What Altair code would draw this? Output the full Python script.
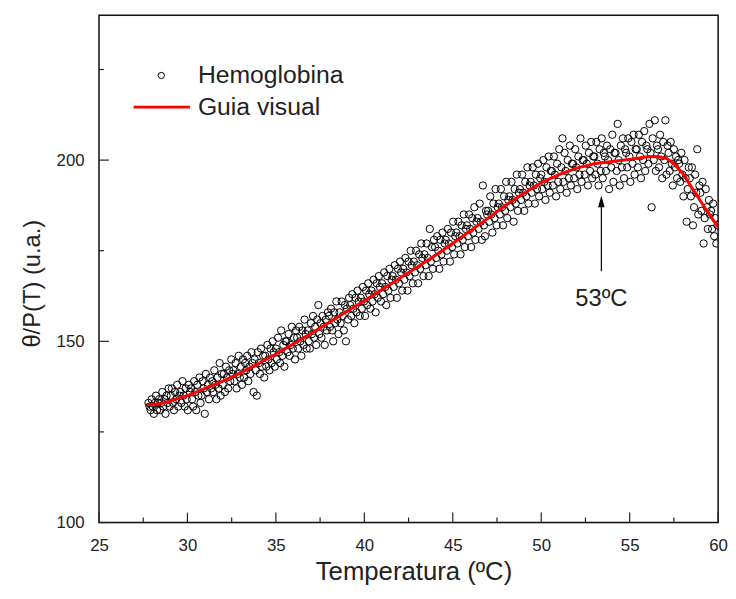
import altair as alt
import pandas as pd

# ---------------- data ----------------
T_START = 27.8
T_STEP = 0.06
# measured θ/P(T) values, 10 readings per row (0.6 ºC per row)
Y_ROWS = [
    [133, 132, 131, 134, 132, 130, 133, 135, 131, 133],
    [134, 131, 133, 136, 132, 134, 130, 135, 133, 137],
    [132, 135, 137, 133, 131, 136, 134, 138, 132, 135],
    [136, 133, 139, 135, 132, 137, 134, 131, 138, 136],
    [137, 134, 132, 139, 136, 131, 138, 135, 140, 133],
    [135, 139, 137, 130, 141, 136, 138, 134, 140, 137],
    [139, 136, 142, 138, 134, 140, 137, 144, 135, 141],
    [138, 141, 136, 143, 140, 137, 142, 139, 145, 141],
    [142, 139, 144, 137, 141, 146, 140, 143, 138, 145],
    [140, 144, 142, 146, 139, 143, 141, 147, 144, 136],
    [145, 142, 135, 147, 144, 141, 148, 143, 146, 140],
    [146, 143, 149, 145, 142, 148, 144, 150, 147, 143],
    [148, 145, 151, 147, 144, 153, 146, 149, 143, 150],
    [150, 147, 152, 146, 149, 154, 148, 151, 145, 153],
    [151, 148, 154, 150, 146, 153, 149, 156, 152, 148],
    [153, 150, 148, 155, 152, 157, 151, 154, 149, 156],
    [160, 152, 155, 151, 157, 154, 149, 156, 153, 158],
    [157, 154, 159, 153, 150, 158, 155, 161, 156, 152],
    [158, 155, 161, 157, 153, 160, 150, 159, 156, 162],
    [160, 157, 163, 159, 155, 162, 158, 164, 161, 157],
    [162, 159, 165, 161, 157, 164, 160, 166, 163, 159],
    [164, 161, 167, 163, 158, 166, 162, 168, 165, 161],
    [166, 163, 169, 165, 160, 168, 164, 170, 162, 167],
    [168, 165, 171, 167, 162, 170, 166, 172, 169, 164],
    [170, 167, 173, 169, 164, 172, 168, 175, 171, 166],
    [172, 169, 175, 171, 166, 174, 170, 177, 173, 168],
    [174, 171, 177, 173, 168, 181, 172, 176, 170, 178],
    [176, 173, 179, 175, 170, 178, 174, 180, 172, 177],
    [178, 175, 181, 177, 172, 180, 176, 183, 174, 179],
    [180, 177, 183, 179, 174, 182, 178, 185, 176, 181],
    [182, 179, 185, 181, 176, 184, 180, 187, 178, 183],
    [184, 181, 188, 183, 178, 193, 182, 179, 186, 185],
    [186, 183, 190, 185, 180, 188, 184, 192, 182, 187],
    [188, 185, 192, 187, 182, 190, 186, 194, 184, 189],
    [190, 187, 194, 189, 183, 192, 188, 196, 186, 191],
    [192, 189, 196, 191, 186, 194, 190, 198, 188, 193],
    [194, 191, 198, 193, 188, 196, 192, 199, 190, 195],
    [196, 192, 200, 194, 189, 198, 193, 201, 191, 197],
    [197, 193, 201, 196, 190, 199, 194, 203, 192, 198],
    [206, 194, 202, 197, 191, 200, 195, 204, 193, 199],
    [199, 195, 203, 198, 192, 201, 196, 206, 194, 200],
    [200, 196, 204, 199, 193, 202, 197, 205, 195, 201],
    [201, 196, 205, 199, 193, 203, 197, 206, 195, 202],
    [201, 197, 204, 200, 192, 203, 198, 207, 194, 202],
    [202, 197, 210, 200, 193, 204, 198, 206, 195, 203],
    [202, 198, 206, 201, 194, 205, 199, 207, 196, 203],
    [203, 198, 207, 201, 195, 205, 200, 208, 197, 204],
    [203, 199, 210, 202, 187, 206, 200, 211, 197, 204],
    [203, 198, 207, 201, 195, 205, 200, 211, 196, 204],
    [202, 197, 205, 199, 193, 203, 198, 201, 195, 200],
    [199, 194, 202, 196, 190, 200, 195, 183, 192, 198],
    [195, 190, 198, 182, 187, 196, 191, 203, 185, 193],
    [191, 186, 194, 177, 184, 192, 187, 181, 189, 185],
    [186, 181, 188, 179, 184, 177, 182],
]

# visual guide (red line)
GUIDE_T = [27.7, 28.5, 29, 30, 31, 32, 33, 34, 35, 36, 37, 38, 39, 40, 41, 42, 43, 44,
           45, 46, 47, 48, 49, 50, 51, 52, 53, 54, 55, 56, 56.6, 57.1, 57.5, 58, 58.5,
           59, 59.5, 60]
GUIDE_V = [132.5, 132.8, 133.5, 135, 137, 139, 141.3, 143.8, 146.5, 149.3, 152.2, 155.2,
           158.2, 161.2, 164.3, 167.4, 170.5, 173.7, 177, 180.5, 184, 187.6, 190.8, 193.8,
           196, 197.8, 199, 199.6, 200.2, 200.9, 201, 200.4, 199, 196.3, 192.5, 188.7,
           185, 181.5]

X_TICKS = [25, 30, 35, 40, 45, 50, 55, 60]
X_MINOR = [27.5, 32.5, 37.5, 42.5, 47.5, 52.5, 57.5]
Y_TICKS = [100, 150, 200]
Y_MINOR = [125, 175, 225]

ARROW_T = 53.4
ARROW_FROM = 169.3
ARROW_TO = 188.6
ANNOT_TEXT = "53ºC"
ANNOT_V = 161.7

LEGEND = ["Hemoglobina", "Guia visual"]

# ---------------- build ----------------
ys = [v for row in Y_ROWS for v in row]
scatter_df = pd.DataFrame({"T": [round(T_START + T_STEP * i, 2) for i in range(len(ys))],
                           "V": ys})
guide_df = pd.DataFrame({"T": GUIDE_T, "V": GUIDE_V})

W, H = 626, 513
FONT = "Liberation Sans"
TXT = "#222222"

xs = alt.Scale(domain=[25, 60], nice=False, zero=False)
ysc = alt.Scale(domain=[100, 240], nice=False, zero=False)

x_axis = alt.Axis(values=X_TICKS, ticks=False, domain=False, grid=False, labelFont=FONT,
                  labelFontSize=17, labelColor=TXT, labelPadding=15, title="Temperatura (ºC)",
                  titleFont=FONT, titleFontSize=26, titleFontWeight="normal", titleColor=TXT,
                  titlePadding=6, titleX=318, labelFlush=False)
y_axis = alt.Axis(values=Y_TICKS, ticks=False, domain=False, grid=False, labelFont=FONT,
                  labelFontSize=17, labelColor=TXT, labelPadding=15, title="θ/P(T) (u.a.)",
                  titleFont=FONT, titleFontSize=24, titleFontWeight="normal", titleColor=TXT,
                  titlePadding=12, titleY=271, labelFlush=False)

points = alt.Chart(scatter_df).mark_point(shape="circle", filled=False, color="black",
                                          size=55, strokeWidth=1, opacity=1, clip=True).encode(
    x=alt.X("T:Q", scale=xs, axis=x_axis), y=alt.Y("V:Q", scale=ysc, axis=y_axis))

line = alt.Chart(guide_df).mark_line(color="#ff0000", strokeWidth=3, clip=True).encode(
    x=alt.X("T:Q", scale=xs), y=alt.Y("V:Q", scale=ysc))

# frame
frame_df = pd.DataFrame({"k": [0]})
frame = alt.Chart(frame_df).mark_rect(fillOpacity=0, stroke="#111111", strokeWidth=1.5).encode(
    x=alt.value(0), x2=alt.value(W), y=alt.value(0), y2=alt.value(H))

# inward ticks
xt = pd.DataFrame({"t": X_TICKS})
xm = pd.DataFrame({"t": X_MINOR})
yt = pd.DataFrame({"v": Y_TICKS})
ym = pd.DataFrame({"v": Y_MINOR})
tick_style = dict(color="#222222", strokeWidth=1.2)
xt_major = alt.Chart(xt).mark_rule(**tick_style).encode(
    x=alt.X("t:Q", scale=xs), y=alt.value(H), y2=alt.value(H - 10))
xt_minor = alt.Chart(xm).mark_rule(**tick_style).encode(
    x=alt.X("t:Q", scale=xs), y=alt.value(H), y2=alt.value(H - 5))
yt_major = alt.Chart(yt).mark_rule(**tick_style).encode(
    y=alt.Y("v:Q", scale=ysc), x=alt.value(0), x2=alt.value(10))
yt_minor = alt.Chart(ym).mark_rule(**tick_style).encode(
    y=alt.Y("v:Q", scale=ysc), x=alt.value(0), x2=alt.value(5))

# annotation arrow
arrow_df = pd.DataFrame({"T": [ARROW_T], "a": [ARROW_FROM], "b": [ARROW_TO]})
arrow_line = alt.Chart(arrow_df).mark_rule(color="black", strokeWidth=1.2).encode(
    x=alt.X("T:Q", scale=xs), y=alt.Y("a:Q", scale=ysc), y2="b:Q")
head_df = pd.DataFrame({"T": [ARROW_T], "V": [ARROW_TO]})
arrow_head = alt.Chart(head_df).mark_point(shape="M0,-1L0.55,1L-0.55,1Z", filled=True,
                                           color="black", size=144, opacity=1).encode(
    x=alt.X("T:Q", scale=xs), y=alt.Y("V:Q", scale=ysc))
annot_df = pd.DataFrame({"T": [ARROW_T], "V": [ANNOT_V], "txt": [ANNOT_TEXT]})
annot = alt.Chart(annot_df).mark_text(font=FONT, fontSize=24, color=TXT, align="center",
                                      baseline="middle").encode(
    x=alt.X("T:Q", scale=xs), y=alt.Y("V:Q", scale=ysc), text="txt:N")

# legend (manual)
leg_df = pd.DataFrame({"k": [0]})
leg_circle = alt.Chart(leg_df).mark_point(shape="circle", filled=False, color="black",
                                          size=40, strokeWidth=1, opacity=1).encode(
    x=alt.value(63), y=alt.value(61))
leg_line = alt.Chart(leg_df).mark_rule(color="#ff0000", strokeWidth=3).encode(
    x=alt.value(35), x2=alt.value(92), y=alt.value(93))
leg_t1 = alt.Chart(leg_df).mark_text(font=FONT, fontSize=25, color=TXT, align="left",
                                     baseline="middle", text=LEGEND[0]).encode(
    x=alt.value(100), y=alt.value(61))
leg_t2 = alt.Chart(leg_df).mark_text(font=FONT, fontSize=25, color=TXT, align="left",
                                     baseline="middle", text=LEGEND[1]).encode(
    x=alt.value(100), y=alt.value(93))

chart = alt.layer(
    points, line, frame, xt_major, xt_minor, yt_major, yt_minor,
    arrow_line, arrow_head, annot, leg_circle, leg_line, leg_t1, leg_t2
).properties(
    width=W, height=H,
    autosize=alt.AutoSizeParams(type="none"),
    padding={"left": 92, "top": 4, "right": 10, "bottom": 64},
).configure_view(strokeWidth=0).configure(background="white")

chart.save("out.html", embed_options={"renderer": "svg", "actions": False})
